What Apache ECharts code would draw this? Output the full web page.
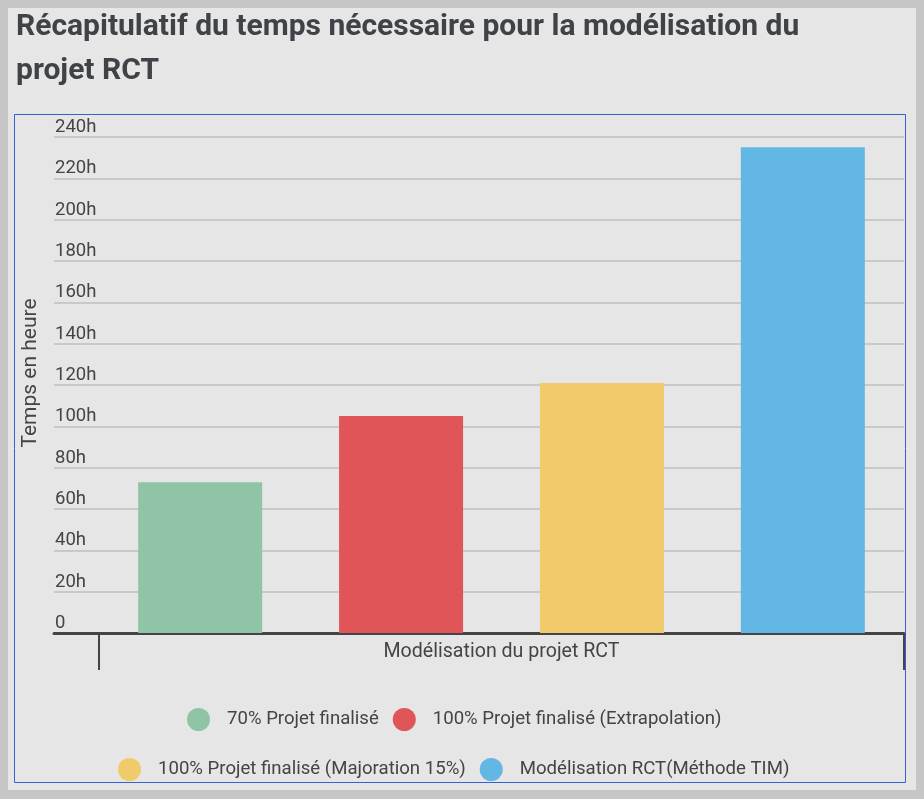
<!DOCTYPE html>
<html>
<head>
<meta charset="utf-8">
<script src="https://cdn.jsdelivr.net/npm/echarts@6/dist/echarts.min.js"></script>
<style>
  html, body { margin: 0; padding: 0; background: #c6c6c6; }
  #chart { width: 924px; height: 799px; }
</style>
</head>
<body>
<div id="chart"></div>
<script>
// données du graphique
var categories = ['Modélisation du projet RCT'];
var seriesNames = [
    '70% Projet finalisé',
    '100% Projet finalisé (Extrapolation)',
    '100% Projet finalisé (Majoration 15%)',
    'Modélisation RCT(Méthode TIM)'
];
var seriesValues = [73, 105, 121, 235];
var seriesColors = ['#8fc4a7', '#df5558', '#f0ca6b', '#62b7e5'];
var yMin = 0, yMax = 240, yStep = 20;
var tickSuffix = 'h';

var FONT = 'Roboto, "Noto Sans", sans-serif';
var TXT = '#444444';

var series = [];
for (var i = 0; i < seriesNames.length; i++) {
    series.push({
        name: seriesNames[i],
        type: 'bar',
        xAxisIndex: 0,
        yAxisIndex: 0,
        barWidth: 124,
        barGap: '62%',
        itemStyle: { color: seriesColors[i] },
        data: [seriesValues[i]]
    });
}

var legendText = { fontFamily: FONT, fontSize: 18.6, color: TXT, padding: [0, 0, 0, 12] };

var option = {
    backgroundColor: '#c6c6c6',
    animation: false,
    textStyle: { fontFamily: FONT },
    graphic: [
        { type: 'rect', z: -10, shape: { x: 8, y: 8, width: 908, height: 782 }, style: { fill: '#e6e6e6' } },
        { type: 'rect', z: -9, shape: { x: 14.5, y: 114.5, width: 891, height: 668 },
          style: { fill: 'none', stroke: '#3462d3', lineWidth: 1 } }
    ],
    title: {
        text: 'Récapitulatif du temps nécessaire pour la modélisation du\nprojet RCT',
        left: 11,
        top: 0,
        textStyle: { fontFamily: FONT, fontSize: 30, fontWeight: 'bold', color: '#3f4247', lineHeight: 44 }
    },
    legend: [
        {
            data: seriesNames.slice(0, 2),
            left: 182, top: 703,
            icon: 'circle', itemWidth: 23, itemHeight: 23, itemGap: 14,
            textStyle: legendText
        },
        {
            data: seriesNames.slice(2, 4),
            left: 113, top: 753,
            icon: 'circle', itemWidth: 23, itemHeight: 23, itemGap: 14,
            textStyle: legendText
        }
    ],
    grid: [
        { left: 99, right: 20, top: 137, bottom: 166 },
        { left: 54, right: 20, top: 137, bottom: 166 }
    ],
    xAxis: [
        {
            type: 'category', gridIndex: 0, data: categories,
            axisLine: { show: false },
            axisTick: { show: true, length: 37, lineStyle: { color: TXT, width: 2 } },
            axisLabel: { fontFamily: FONT, fontSize: 19.6, color: TXT, margin: 9 }
        },
        {
            type: 'category', gridIndex: 1, data: [''],
            axisLine: { show: true, lineStyle: { color: TXT, width: 3 } },
            axisTick: { show: false },
            axisLabel: { show: false }
        }
    ],
    yAxis: [
        {
            type: 'value', gridIndex: 0, min: yMin, max: yMax, interval: yStep,
            name: 'Temps en heure', nameLocation: 'middle', nameGap: 58,
            nameTextStyle: { fontFamily: FONT, fontSize: 21, color: TXT, padding: [0, 0, 0, 24] },
            axisLine: { show: false }, axisTick: { show: false }, splitLine: { show: false },
            axisLabel: {
                fontFamily: FONT, fontSize: 18.5, color: TXT,
                align: 'left', verticalAlign: 'bottom', margin: 44,
                formatter: function (v) { return v === 0 ? '0' : v + tickSuffix; }
            }
        },
        {
            type: 'value', gridIndex: 1, min: yMin, max: yMax, interval: yStep,
            axisLine: { show: false }, axisTick: { show: false }, axisLabel: { show: false },
            splitLine: { show: true, lineStyle: { color: '#c9c9c9', width: 2 } }
        }
    ],
    series: series
};

var chart = echarts.init(document.getElementById('chart'));
chart.setOption(option);
</script>
</body>
</html>
